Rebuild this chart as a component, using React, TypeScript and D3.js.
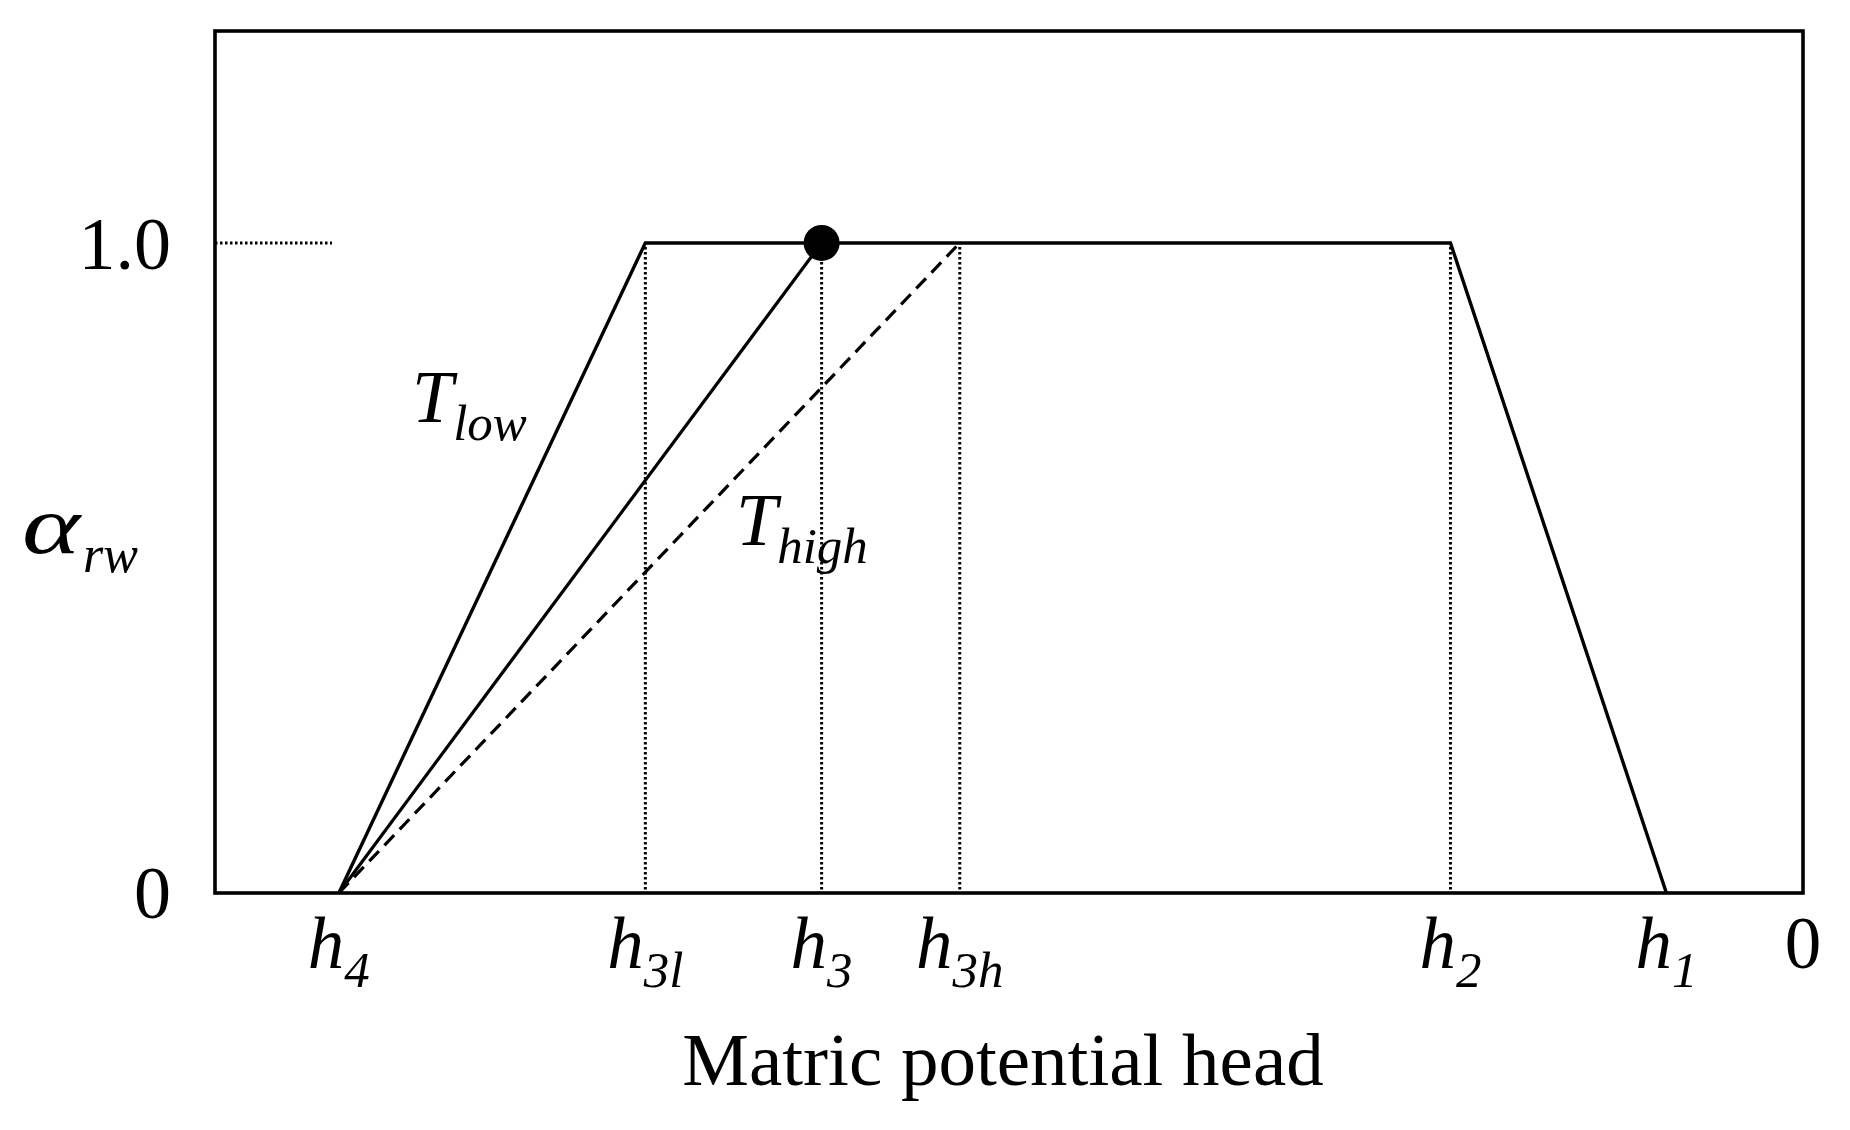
import React from "react";
import * as d3 from "d3";

// Conceptual positions along the matric potential head axis (arbitrary units, 0..100 left→right)
const xKeys = ["h4", "h3l", "h3", "h3h", "h2", "h1", "zero"];
const xValues = [7.8, 27.1, 38.2, 46.9, 77.8, 91.4, 100];
const xTickMain = ["h", "h", "h", "h", "h", "h", "0"];
const xTickSub = ["4", "3l", "3", "3h", "2", "1", ""];

// y values
const yTicks = [0, 1.0];
const yTickLabels = ["0", "1.0"];

// Curves (x in axis units, y = alpha_rw)
const tLowCurve: [number, number][] = [
  [7.8, 0],
  [27.1, 1],
  [77.8, 1],
  [91.4, 0],
];
const midCurve: [number, number][] = [
  [7.8, 0],
  [38.2, 1],
];
const tHighCurve: [number, number][] = [
  [7.8, 0],
  [46.9, 1],
];
const droppers = [27.1, 38.2, 46.9, 77.8];
const markerPoint: [number, number] = [38.2, 1];

const W = 1850;
const H = 1130;
const left = 215;
const right = 1803;
const top = 31;
const bottom = 893;

const FONT = "'Liberation Serif', 'Times New Roman', Times, serif";

export default function App() {
  const x = d3.scaleLinear().domain([0, 100]).range([left, right]);
  const y = d3.scaleLinear().domain([0, 1.326]).range([bottom, top]);
  const line = d3
    .line<[number, number]>()
    .x((d) => x(d[0]))
    .y((d) => y(d[1]));

  const yLabelDy = [25, 26];

  return (
    <svg
      width={W}
      height={H}
      style={{ position: "absolute", left: 0, top: 0, display: "block", background: "#fff" }}
      fontFamily={FONT}
    >
      <rect x={0} y={0} width={W} height={H} fill="#fff" />
      {/* dotted reference tick at 1.0 */}
      <line
        x1={left}
        x2={left + 117}
        y1={y(1)}
        y2={y(1)}
        stroke="#000"
        strokeWidth={3}
        strokeDasharray="2.5 2.5"
      />
      {/* vertical dotted droppers */}
      {droppers.map((d, i) => (
        <line
          key={i}
          x1={x(d)}
          x2={x(d)}
          y1={y(1) + 4}
          y2={y(0)}
          stroke="#000"
          strokeWidth={3}
          strokeDasharray="2.5 2.5"
        />
      ))}
      {/* curves */}
      <path d={line(tLowCurve) || ""} fill="none" stroke="#000" strokeWidth={3.4} strokeLinejoin="miter" />
      <path d={line(midCurve) || ""} fill="none" stroke="#000" strokeWidth={3.2} />
      <path
        d={line(tHighCurve) || ""}
        fill="none"
        stroke="#000"
        strokeWidth={3.2}
        strokeDasharray="14 8"
      />
      <circle cx={x(markerPoint[0])} cy={y(markerPoint[1])} r={18} fill="#000" />
      {/* frame */}
      <rect
        x={left}
        y={top}
        width={right - left}
        height={bottom - top}
        fill="none"
        stroke="#000"
        strokeWidth={3.6}
      />
      {/* y tick labels */}
      {yTicks.map((t, i) => (
        <text
          key={i}
          x={171}
          y={y(t) + yLabelDy[i]}
          textAnchor="end"
          fontSize={74}
          fill="#000"
        >
          {yTickLabels[i]}
        </text>
      ))}
      {/* x tick labels */}
      {xValues.map((v, i) => (
        <text
          key={xKeys[i]}
          x={x(v)}
          y={968}
          textAnchor="middle"
          fill="#000"
          fontSize={73}
          fontStyle={xTickSub[i] ? "italic" : "normal"}
        >
          {xTickMain[i]}
          {xTickSub[i] ? (
            <tspan fontSize={51} dy={19}>
              {xTickSub[i]}
            </tspan>
          ) : null}
        </text>
      ))}
      {/* curve labels */}
      <text x={412} y={422} fontSize={74} fontStyle="italic" fill="#000">
        T
        <tspan fontSize={51} dy={18}>
          low
        </tspan>
      </text>
      <text x={736} y={545} fontSize={74} fontStyle="italic" fill="#000">
        T
        <tspan fontSize={51} dy={18}>
          high
        </tspan>
      </text>
      {/* y axis title */}
      <text
        transform="translate(22,553) scale(1.35,1)"
        fontSize={82}
        fontStyle="italic"
        fill="#000"
      >
        α
      </text>
      <text x={83} y={572} fontSize={52} fontStyle="italic" fill="#000">
        rw
      </text>
      {/* x axis title */}
      <text x={1003} y={1085} textAnchor="middle" fontSize={75} fill="#000">
        Matric potential head
      </text>
    </svg>
  );
}
